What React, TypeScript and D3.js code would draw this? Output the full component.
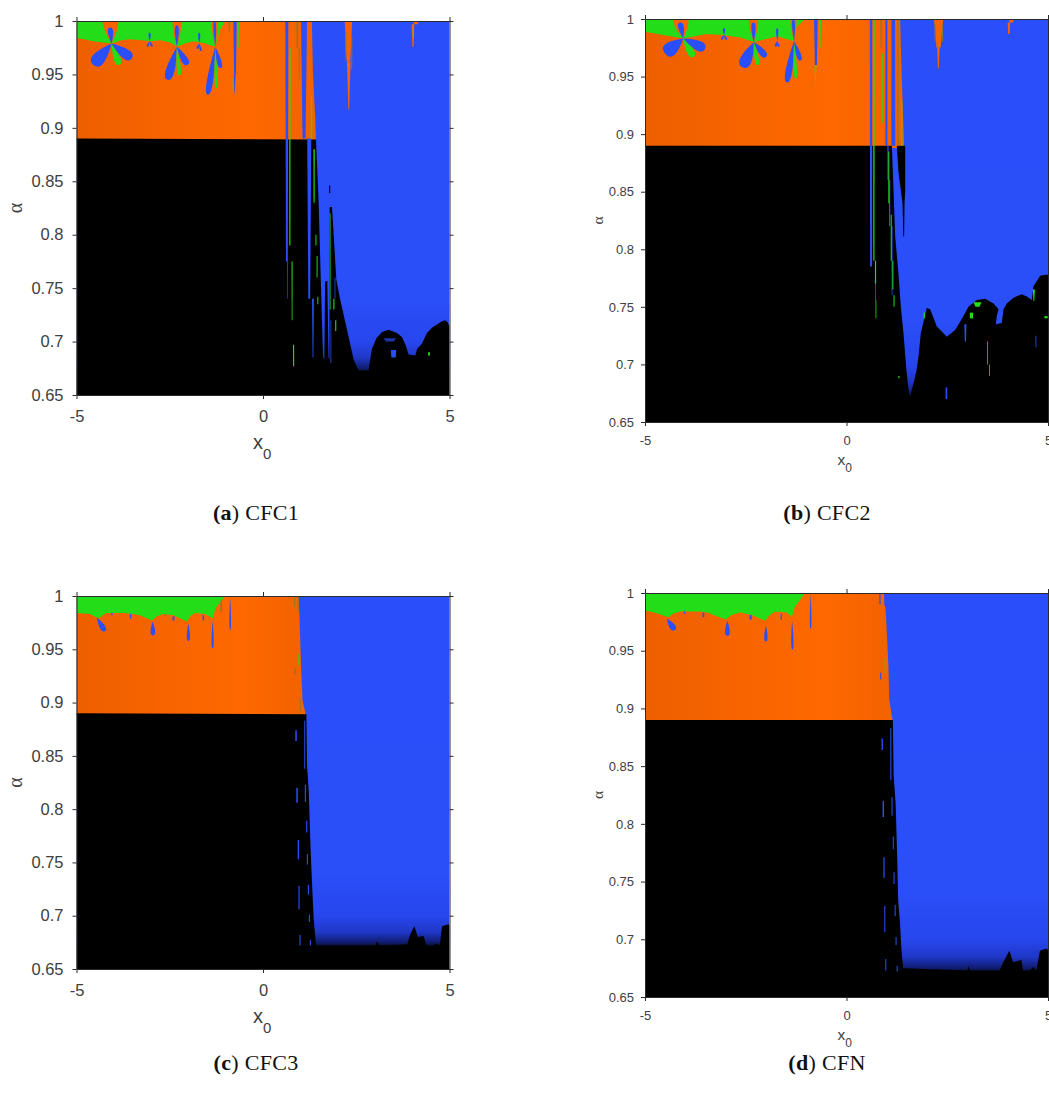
import React, { useEffect, useRef } from "react";
import * as d3 from "d3";

type Pt = [number, number];
// x0, alpha top, alpha bottom, width at top, width at bottom, colour key
type Streak = [number, number, number, number, number, string];
// base x0, base alpha, tip x0, tip alpha, width, colour key
type Petal = [number, number, number, number, number, string];

const COLORS: Record<string, string> = {
  g: "#22dd18",
  o: "#f96400",
  b: "#2a4ffa",
  k: "#000000",
  m: "#8c7a28",
  d: "#1c34a8",
  l: "#3560ff",
};

const xTicks = [-5, 0, 5];
const alphaTicks = [0.65, 0.7, 0.75, 0.8, 0.85, 0.9, 0.95, 1];

// ---- panel (a) CFC1
const greenEdgeA: Pt[] = [[-5, 0.984], [-4.8, 0.983], [-4.55, 0.981], [-4.06, 0.979], [-3.8, 0.982], [-3.56, 0.983], [-3.25, 0.982], [-3.03, 0.981], [-2.76, 0.982], [-2.5, 0.98], [-2.31, 0.976], [-2.1, 0.979], [-1.86, 0.981], [-1.55, 0.979], [-1.28, 0.976], [-1.15, 0.992], [-1.01, 1]];
const orangeEdgeA: Pt[] = [[1.31, 1], [1.34, 0.95], [1.4, 0.91], [1.42, 0.888]];
const blackEdgeA: Pt[] = [[-5, 0.89], [1.42, 0.889], [1.49, 0.832], [1.55, 0.757], [1.61, 0.686], [1.644, 0.683], [1.665, 0.756], [1.725, 0.757], [1.755, 0.685], [1.782, 0.683], [1.787, 0.826], [1.85, 0.826], [1.966, 0.758], [2.073, 0.739], [2.252, 0.711], [2.431, 0.683], [2.565, 0.673], [2.833, 0.673], [2.86, 0.68], [2.92, 0.693], [3.04, 0.703], [3.19, 0.709], [3.37, 0.711], [3.592, 0.708], [3.73, 0.704], [3.83, 0.696], [3.905, 0.688], [4.084, 0.687], [4.13, 0.693], [4.26, 0.698], [4.397, 0.708], [4.53, 0.713], [4.665, 0.716], [4.8, 0.719], [4.888, 0.72], [4.95, 0.718], [5, 0.714]];
const petalsA: Petal[] = [
  [-4.06, 0.979, -4.1, 1.006, 0.5, "o"], [-4.06, 0.979, -4.1, 0.994, 0.17, "b"], [-4.06, 0.979, -4.55, 0.959, 0.42, "b"], [-4.06, 0.979, -3.85, 0.959, 0.22, "g"], [-4.06, 0.979, -3.52, 0.965, 0.32, "b"],
  [-2.31, 0.976, -2.3, 1.005, 0.28, "o"], [-2.31, 0.976, -2.31, 0.996, 0.13, "b"], [-2.31, 0.976, -2.56, 0.945, 0.28, "b"], [-2.31, 0.976, -2.24, 0.949, 0.13, "g"], [-2.31, 0.976, -2.02, 0.959, 0.22, "b"],
  [-1.28, 0.976, -1.3, 1.004, 0.2, "o"], [-1.28, 0.976, -1.3, 1, 0.09, "b"], [-1.28, 0.976, -1.48, 0.931, 0.2, "b"], [-1.28, 0.976, -1.25, 0.937, 0.1, "g"], [-1.28, 0.976, -1.13, 0.956, 0.15, "b"],
  [-3.04, 0.981, -3.04, 0.989, 0.07, "b"], [-3.04, 0.981, -3.1, 0.976, 0.07, "b"], [-3.04, 0.981, -2.97, 0.976, 0.07, "b"],
  [-1.71, 0.979, -1.71, 0.989, 0.07, "b"], [-1.71, 0.979, -1.77, 0.974, 0.07, "b"], [-1.71, 0.979, -1.66, 0.972, 0.07, "b"],
];
const streaksA: Streak[] = [
  [-0.75, 1, 0.95, 0.09, 0.05, "b"], [-0.76, 0.95, 0.932, 0.05, 0.01, "b"], [-0.67, 1, 0.975, 0.05, 0.03, "g"], [-0.8, 0.947, 0.934, 0.02, 0.02, "g"], [-0.9, 1, 0.99, 0.05, 0.03, "m"],
  [0.64, 1, 0.775, 0.08, 0.05, "b"], [0.72, 0.975, 0.79, 0.035, 0.03, "g"], [0.78, 0.775, 0.72, 0.03, 0.02, "g"], [0.82, 0.697, 0.677, 0.03, 0.03, "g"],
  [0.66, 0.775, 0.74, 0.02, 0.015, "b"], [0.92, 1, 0.975, 0.05, 0.03, "m"], [0.97, 0.975, 0.945, 0.03, 0.02, "m"],
  [1.1, 1, 0.89, 0.16, 0.08, "b"], [1.24, 0.89, 0.74, 0.11, 0.05, "b"], [1.34, 0.74, 0.685, 0.05, 0.02, "b"],
  [1.3, 0.93, 0.89, 0.03, 0.04, "g"], [1.37, 0.88, 0.83, 0.035, 0.03, "g"], [1.42, 0.8, 0.79, 0.025, 0.025, "g"], [1.45, 0.78, 0.76, 0.025, 0.025, "g"], [1.47, 0.742, 0.735, 0.025, 0.025, "g"],
  [2.29, 1, 0.962, 0.2, 0.1, "o"], [2.3, 0.962, 0.917, 0.1, 0.02, "o"], [2.22, 0.99, 0.965, 0.04, 0.02, "m"], [2.38, 0.985, 0.955, 0.03, 0.02, "m"],
  [4.1, 1, 0.997, 0.14, 0.1, "o"], [4.02, 0.997, 0.976, 0.07, 0.03, "o"], [4.03, 0.992, 0.985, 0.03, 0.03, "g"],
  [1.787, 0.846, 0.839, 0.03, 0.03, "k"], [1.8, 0.82, 0.73, 0.02, 0.02, "g"], [1.82, 0.72, 0.68, 0.02, 0.02, "b"], [1.9, 0.74, 0.73, 0.03, 0.03, "g"], [1.93, 0.76, 0.74, 0.03, 0.03, "d"], [1.95, 0.72, 0.71, 0.03, 0.03, "g"],
  [3.5, 0.692, 0.685, 0.14, 0.12, "b"], [3.4, 0.703, 0.7, 0.35, 0.2, "d"], [4.45, 0.69, 0.687, 0.05, 0.05, "g"],
];

// ---- panel (b) CFC2
const greenEdgeB: Pt[] = [[-5, 0.989], [-4.55, 0.986], [-4.05, 0.983], [-3.47, 0.987], [-3.06, 0.986], [-2.64, 0.984], [-2.3, 0.98], [-1.73, 0.985], [-1.32, 0.981], [-1.24, 0.993], [-1.03, 1]];
const orangeEdgeB: Pt[] = [[1.33, 1], [1.37, 0.95], [1.41, 0.91], [1.43, 0.888]];
const blackEdgeB: Pt[] = [[-5, 0.89], [1.456, 0.89], [1.456, 0.85], [1.44, 0.84], [1.43, 0.811], [1.41, 0.811], [1.39, 0.84], [1.29, 0.867], [1.249, 0.89], [1.125, 0.89], [1.166, 0.852], [1.208, 0.811], [1.29, 0.779], [1.348, 0.75], [1.414, 0.727], [1.48, 0.698], [1.538, 0.678], [1.58, 0.672], [1.729, 0.693], [1.787, 0.707], [1.844, 0.727], [1.993, 0.749], [2.076, 0.748], [2.242, 0.733], [2.49, 0.724], [2.696, 0.73], [2.903, 0.742], [3.027, 0.75], [3.234, 0.756], [3.441, 0.757], [3.648, 0.753], [3.772, 0.748], [3.73, 0.742], [3.706, 0.735], [3.854, 0.736], [3.896, 0.748], [3.978, 0.753], [4.144, 0.758], [4.351, 0.761], [4.475, 0.759], [4.599, 0.756], [4.64, 0.768], [4.806, 0.777], [4.971, 0.778], [5.03, 0.777]];
const petalsB: Petal[] = [
  [-4.05, 0.983, -4.13, 1.004, 0.45, "o"], [-4.05, 0.983, -4.13, 0.997, 0.17, "b"], [-4.05, 0.983, -4.5, 0.97, 0.42, "b"], [-4.05, 0.983, -3.8, 0.967, 0.22, "g"], [-4.05, 0.983, -3.51, 0.974, 0.3, "b"],
  [-2.3, 0.98, -2.31, 1.004, 0.28, "o"], [-2.3, 0.98, -2.31, 0.997, 0.13, "b"], [-2.3, 0.98, -2.58, 0.958, 0.35, "b"], [-2.3, 0.98, -2.2, 0.96, 0.13, "g"], [-2.3, 0.98, -2, 0.967, 0.2, "b"],
  [-1.3, 0.981, -1.32, 1.004, 0.18, "o"], [-1.3, 0.981, -1.32, 1, 0.09, "b"], [-1.3, 0.981, -1.48, 0.945, 0.2, "b"], [-1.3, 0.981, -1.26, 0.948, 0.1, "g"], [-1.3, 0.981, -1.14, 0.964, 0.14, "b"],
  [-3.04, 0.986, -3.04, 0.992, 0.07, "b"], [-3.04, 0.986, -3.1, 0.982, 0.07, "b"], [-3.04, 0.986, -2.97, 0.982, 0.07, "b"],
  [-1.72, 0.981, -1.72, 0.992, 0.07, "b"], [-1.72, 0.981, -1.76, 0.976, 0.07, "b"], [-1.72, 0.981, -1.68, 0.976, 0.06, "b"],
];
const streaksB: Streak[] = [
  [-0.76, 1, 0.96, 0.09, 0.05, "b"], [-0.77, 0.96, 0.942, 0.04, 0.01, "g"], [-0.66, 1, 0.975, 0.05, 0.03, "g"],
  [0.61, 1, 0.785, 0.06, 0.05, "b"], [0.68, 1, 0.79, 0.035, 0.03, "g"], [0.72, 0.79, 0.77, 0.03, 0.03, "g"], [0.73, 0.756, 0.74, 0.02, 0.02, "g"], [0.72, 0.77, 0.756, 0.02, 0.02, "b"],
  [0.86, 1, 0.975, 0.04, 0.03, "m"], [0.99, 1, 0.89, 0.05, 0.05, "b"], [0.9, 0.97, 0.91, 0.025, 0.025, "g"], [1.03, 0.89, 0.86, 0.03, 0.03, "b"], [1.07, 0.86, 0.82, 0.03, 0.03, "b"], [1.13, 0.82, 0.76, 0.025, 0.02, "b"], [1.05, 0.885, 0.84, 0.025, 0.025, "g"],
  [1.16, 1, 0.89, 0.09, 0.1, "b"], [1.11, 0.83, 0.79, 0.025, 0.025, "g"], [1.15, 0.79, 0.765, 0.025, 0.025, "g"], [1.18, 0.76, 0.75, 0.025, 0.025, "g"],
  [1.28, 1, 0.89, 0.03, 0.03, "m"], [1.37, 0.93, 0.89, 0.025, 0.03, "g"],
  [2.285, 1, 0.975, 0.23, 0.1, "o"], [2.28, 0.975, 0.957, 0.06, 0.02, "o"], [2.2, 0.995, 0.98, 0.03, 0.02, "m"], [2.38, 0.995, 0.98, 0.03, 0.02, "m"],
  [4.09, 1, 0.997, 0.12, 0.08, "o"], [4.03, 0.997, 0.987, 0.06, 0.04, "o"],
  [1.93, 0.745, 0.74, 0.03, 0.03, "g"], [2.95, 0.735, 0.72, 0.05, 0.03, "b"], [3.1, 0.745, 0.74, 0.08, 0.08, "g"], [3.25, 0.754, 0.75, 0.2, 0.1, "g"], [2.48, 0.68, 0.67, 0.04, 0.04, "b"], [3.5, 0.72, 0.7, 0.02, 0.02, "g"], [3.55, 0.7, 0.69, 0.02, 0.02, "g"], [4.65, 0.765, 0.755, 0.05, 0.02, "g"], [4.7, 0.725, 0.715, 0.02, 0.02, "b"], [1.3, 0.69, 0.688, 0.03, 0.03, "g"], [4.95, 0.742, 0.74, 0.08, 0.08, "g"],
];

// ---- panel (c) CFC3
const greenEdgeC: Pt[] = [[-5, 0.984], [-4.64, 0.983], [-4.41, 0.979], [-4.3, 0.982], [-4.19, 0.984], [-3.74, 0.984], [-3.5, 0.983], [-3.3, 0.982], [-2.98, 0.977], [-2.85, 0.981], [-2.67, 0.983], [-2.4, 0.982], [-2.04, 0.976], [-1.95, 0.981], [-1.82, 0.984], [-1.55, 0.983], [-1.34, 0.979], [-1.28, 0.988], [-1.06, 0.998], [-1, 1]];
const orangeEdgeC: Pt[] = [[0.955, 1], [0.98, 0.979], [1.02, 0.935], [1.06, 0.902], [1.15, 0.888]];
const blackEdgeC: Pt[] = [[-5, 0.89], [1.163, 0.889], [1.18, 0.842], [1.226, 0.817], [1.27, 0.768], [1.315, 0.73], [1.36, 0.696], [1.423, 0.672], [3.015, 0.672], [3.06, 0.676], [3.1, 0.672], [3.866, 0.673], [3.955, 0.683], [4.06, 0.69], [4.15, 0.68], [4.31, 0.681], [4.38, 0.672], [4.58, 0.672], [4.65, 0.674], [4.74, 0.672], [4.8, 0.69], [4.98, 0.692], [5, 0.69]];
const petalsC: Petal[] = [
  [-4.46, 0.98, -4.24, 0.967, 0.18, "b"], [-2.96, 0.976, -2.95, 0.963, 0.15, "b"], [-2, 0.974, -2, 0.958, 0.11, "b"], [-1.35, 0.977, -1.35, 0.951, 0.07, "b"], [-0.88, 0.999, -0.88, 0.968, 0.055, "b"],
];
const streaksC: Streak[] = [
  [-3.55, 0.983, 0.979, 0.04, 0.04, "b"], [-2.4, 0.981, 0.977, 0.05, 0.05, "b"], [-1.6, 0.982, 0.977, 0.04, 0.04, "b"], [-4.05, 0.984, 0.982, 0.04, 0.04, "b"], [-2.62, 0.983, 0.981, 0.04, 0.04, "m"],
  [-1.12, 0.996, 0.985, 0.04, 0.04, "m"], [0.85, 1, 0.99, 0.03, 0.03, "m"], [0.94, 1, 0.985, 0.025, 0.025, "m"], [0.86, 0.932, 0.926, 0.04, 0.04, "m"], [0.96, 0.945, 0.935, 0.025, 0.025, "g"], [1.0, 0.905, 0.89, 0.02, 0.02, "m"],
  [0.886, 0.874, 0.864, 0.04, 0.04, "b"], [0.913, 0.82, 0.806, 0.04, 0.04, "b"], [0.948, 0.771, 0.753, 0.035, 0.035, "b"], [0.966, 0.728, 0.706, 0.03, 0.03, "b"], [0.993, 0.682, 0.672, 0.03, 0.03, "b"],
  [1.119, 0.883, 0.838, 0.025, 0.025, "b"], [1.136, 0.823, 0.807, 0.03, 0.03, "b"], [1.172, 0.789, 0.778, 0.03, 0.03, "b"], [1.19, 0.758, 0.748, 0.03, 0.03, "b"], [1.217, 0.729, 0.72, 0.03, 0.03, "b"], [1.244, 0.701, 0.694, 0.03, 0.03, "b"], [1.27, 0.677, 0.672, 0.03, 0.03, "b"],
];

// ---- panel (d) CFN
const greenEdgeD: Pt[] = [[-5, 0.985], [-4.67, 0.982], [-4.42, 0.979], [-4.3, 0.982], [-4.13, 0.984], [-3.63, 0.984], [-3.45, 0.983], [-3.3, 0.981], [-3, 0.977], [-2.85, 0.981], [-2.64, 0.983], [-2.35, 0.981], [-2.02, 0.976], [-1.9, 0.981], [-1.77, 0.984], [-1.48, 0.983], [-1.36, 0.979], [-1.28, 0.988], [-1.11, 0.996], [-1.03, 1]];
const orangeEdgeD: Pt[] = [[0.93, 1], [0.98, 0.98], [1.04, 0.937], [1.06, 0.908], [1.15, 0.888]];
const blackEdgeD: Pt[] = [[-5, 0.89], [1.15, 0.89], [1.17, 0.842], [1.22, 0.817], [1.26, 0.768], [1.282, 0.734], [1.323, 0.717], [1.365, 0.69], [1.406, 0.675], [3.0, 0.673], [3.03, 0.677], [3.06, 0.673], [3.8, 0.673], [3.89, 0.68], [4.04, 0.69], [4.135, 0.68], [4.34, 0.682], [4.38, 0.673], [4.55, 0.673], [4.63, 0.676], [4.71, 0.673], [4.8, 0.69], [4.96, 0.692], [5.02, 0.69]];
const petalsD: Petal[] = [
  [-4.46, 0.978, -4.26, 0.968, 0.18, "b"], [-2.96, 0.976, -2.95, 0.963, 0.14, "b"], [-2, 0.972, -2, 0.958, 0.1, "b"], [-1.35, 0.976, -1.34, 0.951, 0.07, "b"], [-0.89, 0.999, -0.89, 0.969, 0.05, "b"],
];
const streaksD: Streak[] = [
  [-3.55, 0.983, 0.979, 0.04, 0.04, "b"], [-2.38, 0.981, 0.977, 0.05, 0.05, "b"], [-1.62, 0.982, 0.977, 0.03, 0.03, "b"], [-4.02, 0.984, 0.982, 0.04, 0.04, "b"],
  [0.83, 1, 0.99, 0.03, 0.03, "b"], [0.95, 1, 0.989, 0.025, 0.025, "b"], [0.85, 0.931, 0.925, 0.03, 0.03, "b"], [0.96, 0.944, 0.931, 0.02, 0.02, "g"],
  [0.886, 0.874, 0.864, 0.035, 0.035, "b"], [0.913, 0.82, 0.806, 0.035, 0.035, "b"], [0.93, 0.771, 0.753, 0.03, 0.03, "b"], [0.95, 0.729, 0.706, 0.025, 0.025, "b"], [0.976, 0.683, 0.673, 0.025, 0.025, "b"],
  [1.1, 0.883, 0.838, 0.025, 0.025, "b"], [1.13, 0.823, 0.807, 0.025, 0.025, "b"], [1.16, 0.789, 0.778, 0.025, 0.025, "b"], [1.18, 0.758, 0.748, 0.025, 0.025, "b"], [1.207, 0.73, 0.72, 0.025, 0.025, "b"], [1.23, 0.702, 0.695, 0.025, 0.025, "b"], [1.257, 0.677, 0.672, 0.025, 0.025, "b"],
];

const captionLetters = ["(a)", "(b)", "(c)", "(d)"];
const captionNames = ["CFC1", "CFC2", "CFC3", "CFN"];

const panels = [
  { id: "a", left: 76.5, right: 449.5, top: 21, bottom: 395, font: 16.5, subFont: 15, labelFont: 20, xlabY: 451, ylabX: 18, subDy: 10, xlabShift: 10, greenEdge: greenEdgeA, orangeEdge: orangeEdgeA, blackEdge: blackEdgeA, petals: petalsA, streaks: streaksA, capX: 256, capY: 520 },
  { id: "b", left: 645, right: 1048, top: 19, bottom: 422, font: 13, subFont: 12, labelFont: 15.5, xlabY: 467, ylabX: 599, subDy: 7, xlabShift: 9, greenEdge: greenEdgeB, orangeEdge: orangeEdgeB, blackEdge: blackEdgeB, petals: petalsB, streaks: streaksB, capX: 827, capY: 520 },
  { id: "c", left: 76.5, right: 449.5, top: 596, bottom: 969, font: 16.5, subFont: 15, labelFont: 20, xlabY: 1025, ylabX: 18, subDy: 10, xlabShift: 10, greenEdge: greenEdgeC, orangeEdge: orangeEdgeC, blackEdge: blackEdgeC, petals: petalsC, streaks: streaksC, capX: 256, capY: 1070 },
  { id: "d", left: 645, right: 1048, top: 593, bottom: 997, font: 13, subFont: 12, labelFont: 15.5, xlabY: 1042, ylabX: 599, subDy: 7, xlabShift: 9, greenEdge: greenEdgeD, orangeEdge: orangeEdgeD, blackEdge: blackEdgeD, petals: petalsD, streaks: streaksD, capX: 827, capY: 1070 },
];

function Panel({ p, index }: { p: (typeof panels)[number]; index: number }) {
  const bottomRef = useRef<SVGGElement>(null);
  const topRef = useRef<SVGGElement>(null);
  const leftRef = useRef<SVGGElement>(null);
  const rightRef = useRef<SVGGElement>(null);

  const x = d3.scaleLinear().domain([-5, 5]).range([p.left, p.right]);
  const y = d3.scaleLinear().domain([0.65, 1]).range([p.bottom, p.top]);
  const line = d3
    .line<Pt>()
    .x((d) => x(d[0]))
    .y((d) => y(d[1]));

  useEffect(() => {
    const style = (g: d3.Selection<SVGGElement, unknown, null, undefined>) => {
      g.selectAll("path").attr("stroke", "#2b2b2b").attr("stroke-width", 1);
      g.selectAll("line").attr("stroke", "#2b2b2b").attr("stroke-width", 1);
      g.selectAll("text")
        .attr("fill", "#404040")
        .attr("font-family", "'Liberation Sans', Arial, sans-serif")
        .attr("font-size", p.font);
    };
    const fmt = (d: d3.NumberValue) => d3.format(".2~f")(d as number);
    d3.select(bottomRef.current!)
      .call(d3.axisBottom(x).tickValues(xTicks).tickFormat((d) => String(d)).tickSize(4).tickSizeOuter(0).tickPadding(index % 2 ? 10 : 11))
      .call(style);
    d3.select(topRef.current!)
      .call(d3.axisTop(x).tickValues(xTicks).tickFormat(() => "").tickSize(4).tickSizeOuter(0))
      .call(style);
    d3.select(leftRef.current!)
      .call(d3.axisLeft(y).tickValues(alphaTicks).tickFormat(fmt).tickSize(4).tickSizeOuter(0).tickPadding(index % 2 ? 7 : 9))
      .call(style);
    d3.select(rightRef.current!)
      .call(d3.axisRight(y).tickValues(alphaTicks).tickFormat(() => "").tickSize(4).tickSizeOuter(0))
      .call(style);
  }, []);

  const orangePts: Pt[] = [[-5, 1], ...p.orangeEdge, [-5, 0.888]];
  const greenPts: Pt[] = [[-5, 1], ...p.greenEdge];
  const blackPts: Pt[] = [[-5, 0.65], ...p.blackEdge, [5, 0.65]];

  const petalPath = (d: Petal) => {
    const [bx, by, tx, ty, w] = d;
    const x0 = x(bx);
    const y0 = y(by);
    const x1 = x(tx);
    const y1 = y(ty);
    const len = Math.hypot(x1 - x0, y1 - y0) || 1;
    const half = (x(w) - x(0)) * 0.72;
    const nx = (-(y1 - y0) / len) * half;
    const ny = ((x1 - x0) / len) * half;
    const cx = x0 + (x1 - x0) * 0.85;
    const cy = y0 + (y1 - y0) * 0.85;
    const path = d3.path();
    path.moveTo(x0, y0);
    path.bezierCurveTo(cx + nx, cy + ny, x1 + nx * 0.5, y1 + ny * 0.5, x1, y1);
    path.bezierCurveTo(x1 - nx * 0.5, y1 - ny * 0.5, cx - nx, cy - ny, x0, y0);
    path.closePath();
    return path.toString();
  };

  const streakPts = (d: Streak): Pt[] => {
    const [cx, top, bot, wt, wb] = d;
    return [[cx - wt / 2, top], [cx + wt / 2, top], [cx + wb / 2, bot], [cx - wb / 2, bot]];
  };

  const offset = (a: number) => `${((1 - a) / 0.35) * 100}%`;

  return (
    <g>
      <defs>
        <clipPath id={`clip-${p.id}`}>
          <rect x={p.left} y={p.top} width={p.right - p.left} height={p.bottom - p.top} />
        </clipPath>
        <linearGradient id={`blue-${p.id}`} x1="0" y1="0" x2="0" y2="1">
          <stop offset={offset(1)} stopColor="#2a4ffa" />
          <stop offset={offset(0.74)} stopColor="#2a4ef8" />
          <stop offset={offset(0.7)} stopColor="#2746ee" />
          <stop offset={offset(0.685)} stopColor="#2038c8" />
          <stop offset={offset(0.675)} stopColor="#101c70" />
          <stop offset={offset(0.671)} stopColor="#050a20" />
        </linearGradient>
        <linearGradient id={`orange-${p.id}`} x1="0" y1="0" x2="1" y2="0">
          <stop offset="0%" stopColor="#ee5f00" />
          <stop offset="72%" stopColor="#ff6800" />
          <stop offset="100%" stopColor="#f26200" />
        </linearGradient>
      </defs>
      <g clipPath={`url(#clip-${p.id})`}>
        <rect x={p.left} y={p.top} width={p.right - p.left} height={p.bottom - p.top} fill={`url(#blue-${p.id})`} />
        <path d={line(orangePts) + "Z"} fill={`url(#orange-${p.id})`} />
        <path d={line(greenPts) + "Z"} fill={COLORS.g} />
        {p.petals.map((d, i) => (
          <path key={i} d={petalPath(d)} fill={COLORS[d[5]]} />
        ))}
        <path d={line(blackPts) + "Z"} fill="#000000" />
        {p.streaks.map((d, i) => (
          <path key={i} d={line(streakPts(d)) + "Z"} fill={COLORS[d[5]]} />
        ))}
      </g>
      <g ref={bottomRef} transform={`translate(0,${p.bottom})`} />
      <g ref={topRef} transform={`translate(0,${p.top})`} />
      <g ref={leftRef} transform={`translate(${p.left},0)`} />
      <g ref={rightRef} transform={`translate(${p.right},0)`} />
      <text x={x(0) - p.xlabShift} y={p.xlabY - 2} fontFamily="'Liberation Sans', Arial, sans-serif" fontSize={p.labelFont} fill="#404040">
        x
        <tspan fontSize={p.subFont} dy={p.subDy}>
          0
        </tspan>
      </text>
      <text
        transform={`translate(${p.ylabX + 4},${y(0.825)}) rotate(-90)`}
        textAnchor="middle"
        fontFamily="'Liberation Serif', serif"
        fontSize={p.labelFont}
        fill="#404040"
      >
        α
      </text>
      <text x={p.capX} y={p.capY} textAnchor="middle" fontFamily="'Liberation Serif', serif" fontSize={22} letterSpacing={0.3} fill="#111">
        <tspan fontWeight="bold">{captionLetters[index].slice(0, 2)}</tspan>
        {") " + captionNames[index]}
      </text>
    </g>
  );
}

export default function App() {
  return (
    <svg width={1049} height={1099} style={{ position: "absolute", left: 0, top: 0, display: "block", background: "#fff" }}>
      {panels.map((p, i) => (
        <Panel key={p.id} p={p} index={i} />
      ))}
    </svg>
  );
}
